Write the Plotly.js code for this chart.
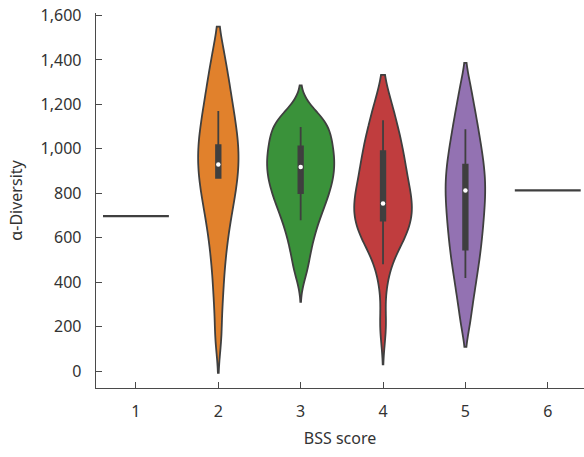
<!DOCTYPE html>
<html><head><meta charset="utf-8">
<script src="https://cdn.plot.ly/plotly-3.0.1.min.js"></script>
<style>html,body{margin:0;padding:0;background:#fff}#chart{width:584px;height:457px}</style>
</head><body><div id="chart"></div>
<script>
// BSS score categories and tick labels
const categories = [1, 2, 3, 4, 5, 6];
const tickLabels = ['1', '2', '3', '4', '5', '6'];
const yTickValues = [0, 200, 400, 600, 800, 1000, 1200, 1400, 1600];

// alpha-diversity values per BSS score (estimated from the violin outlines)
const score1 = [697];
const score2 = [155, 304, 409, 496, 562, 619, 667, 710, 744, 778, 810, 838, 865, 891, 916, 941, 966, 991, 1016, 1041, 1068, 1095, 1126, 1158, 1190, 1228, 1270, 1317, 1370, 1450];
const score3 = [448, 522, 578, 623, 661, 694, 721, 747, 770, 792, 812, 831, 850, 868, 885, 903, 920, 937, 954, 971, 988, 1006, 1025, 1043, 1064, 1084, 1104, 1122, 1140, 1165];
const score4 = [205, 410, 515, 558, 585, 610, 632, 653, 671, 689, 707, 725, 742, 760, 779, 798, 820, 842, 865, 889, 914, 940, 966, 992, 1020, 1049, 1087, 1125, 1170, 1235];
const score5 = [214, 304, 362, 414, 455, 496, 529, 562, 595, 624, 653, 682, 709, 736, 762, 788, 813, 838, 863, 888, 915, 943, 971, 999, 1035, 1070, 1107, 1155, 1205, 1287];
const score6 = [813];

// inner box statistics (scores 2-5)
const boxPositions = [2, 3, 4, 5];
const boxQ1 = [869, 801, 677, 547];
const boxMedian = [929, 918, 754, 813];
const boxQ3 = [1016, 1011, 989, 929];
const whiskerLow = [869, 679, 481, 419];
const whiskerHigh = [1170, 1098, 1128, 1088];

// violin extents (tips)
const violinSpans = [null, [-8, 1550], [312, 1285], [30, 1333], [109, 1387], null];

// styling
const violinWidths = [0.8, 0.49, 0.815, 0.70, 0.48, 0.8];
const kdeBandwidths = [null, 85, 62, 85, 70, null];
const fillColors = ['#3274a1', '#e1812c', '#3a923a', '#c03d3e', '#9372b2', '#845b53'];
const edge = '#3f3f3f';

const seriesList = [score1, score2, score3, score4, score5, score6];
const traces = [];
seriesList.forEach((arr, i) => {
  const c = categories[i];
  if (arr.length === 1) {
    const hw = violinWidths[i] / 2;
    traces.push({
      type: 'scatter', mode: 'lines',
      x: [c - hw, c + hw], y: [arr[0], arr[0]],
      line: { color: edge, width: 2.2 },
      hoverinfo: 'skip', showlegend: false
    });
  } else {
    traces.push({
      type: 'violin', x0: c, y: arr, name: tickLabels[i],
      width: violinWidths[i], scalemode: 'width',
      bandwidth: kdeBandwidths[i], spanmode: 'manual', span: violinSpans[i],
      points: false,
      fillcolor: fillColors[i], opacity: 1,
      line: { color: edge, width: 1.8 },
      box: { visible: false },
      meanline: { visible: false },
      hoverinfo: 'skip', showlegend: false
    });
  }
});
traces.push({
  type: 'box', x: boxPositions,
  q1: boxQ1, median: boxMedian, q3: boxQ3,
  lowerfence: whiskerLow, upperfence: whiskerHigh,
  width: 0.055, whiskerwidth: 0,
  fillcolor: edge, line: { color: edge, width: 1.8 },
  boxpoints: false, hoverinfo: 'skip', showlegend: false
});
traces.push({
  type: 'scatter', mode: 'markers', x: boxPositions, y: boxMedian,
  marker: { color: '#ffffff', size: 4.5, line: { width: 0 } },
  hoverinfo: 'skip', showlegend: false
});

const axisFont = { family: 'Noto Sans, sans-serif', size: 16, color: '#333333' };
const layout = {
  width: 584, height: 457,
  margin: { l: 96, r: 0, t: 13, b: 69 },
  paper_bgcolor: '#ffffff', plot_bgcolor: '#ffffff',
  violinmode: 'overlay', boxmode: 'overlay',
  showlegend: false,
  font: axisFont,
  xaxis: {
    type: 'linear', range: [0.515, 6.44],
    tickvals: categories, ticktext: tickLabels,
    showline: true, linecolor: '#4a4a4a', linewidth: 1.3,
    ticks: 'inside', ticklen: 6, tickwidth: 1, tickcolor: '#4a4a4a',
    showgrid: false, zeroline: false,
    tickfont: axisFont, ticklabelstandoff: 8,
    title: { text: 'BSS score', font: axisFont, standoff: 12 }
  },
  yaxis: {
    range: [-76, 1611],
    tickvals: yTickValues, tickformat: ',d',
    showline: true, linecolor: '#4a4a4a', linewidth: 1.3,
    ticks: 'inside', ticklen: 6, tickwidth: 1, tickcolor: '#4a4a4a',
    showgrid: false, zeroline: false,
    tickfont: axisFont, ticklabelstandoff: 10,
    title: { text: 'α-Diversity', font: axisFont, standoff: 14 }
  }
};
Plotly.newPlot('chart', traces, layout, { staticPlot: true, displayModeBar: false });
</script>
</body></html>
